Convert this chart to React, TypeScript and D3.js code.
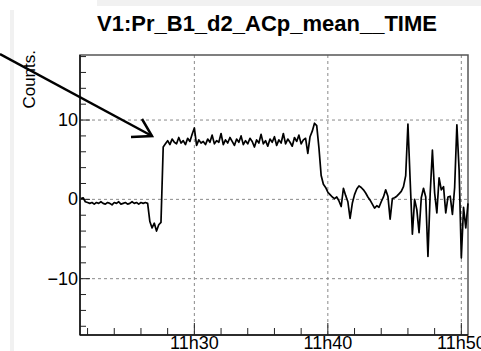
import React, { useEffect, useRef } from "react";
import * as d3 from "d3";

const WIDTH = 481;
const HEIGHT = 351;
const MARGIN = { top: 55, right: 13, bottom: 16, left: 80 };

const TITLE = "V1:Pr_B1_d2_ACp_mean__TIME";
const Y_LABEL = "Counts.";

// one sample every 10 s, starting 11:21:30
const START = new Date(2000, 0, 1, 11, 21, 30);
const STEP_SECONDS = 10;
const X_DOMAIN = [new Date(2000, 0, 1, 11, 21, 26), new Date(2000, 0, 1, 11, 50, 30)];
const Y_DOMAIN = [-17.1, 18.2];
const Y_MAJOR = [-10, 0, 10];

const counts = [
  0.1, 0.2, -0.3, -0.4, -0.5, -0.4, -0.6, -0.4, -0.5, -0.3,
  -0.5, -0.6, -0.4, -0.5, -0.7, -0.4, -0.5, -0.3, -0.6, -0.5,
  -0.4, -0.6, -0.5, -0.3, -0.5, -0.4, -0.6, -0.4, -0.5, -0.4,
  -0.5, -2.8, -3.6, -3.0, -4.0, -3.2, -2.9, 6.6, 7.0, 7.4,
  6.9, 7.6, 7.2, 7.0, 7.8, 7.1, 7.4, 6.9, 7.7, 7.3,
  8.2, 9.0, 6.8, 7.5, 7.1, 7.3, 6.9, 7.6, 7.2, 8.1,
  7.0, 7.4, 7.2, 8.3, 6.9, 7.5, 7.1, 7.8, 7.3, 6.8,
  7.6, 7.2, 8.0, 6.9, 7.4, 7.0, 7.7, 7.3, 6.6, 7.5,
  7.1, 8.2, 7.0, 7.4, 6.7, 7.6, 7.2, 7.9, 6.8, 7.5,
  7.1, 8.3, 7.0, 7.6, 7.2, 6.7, 7.8, 7.3, 8.1, 7.0,
  7.5, 7.7, 5.8, 7.9, 8.6, 9.6, 9.3, 6.5, 3.0, 1.9,
  1.5, 0.9, 0.6, 0.3, 0.1, 0.3, -0.2, -0.9, 1.4, 0.5,
  -0.3, -2.4, -0.5, 0.6, 1.3, 1.7, 1.5, 1.2, 0.8, 0.3,
  -0.1, -0.6, -1.1, -0.8, -1.0, -0.3, 0.3, 1.2, 0.4, -2.5,
  0.1, 0.2, 0.4, 0.7, 1.0, 1.6, 3.0, 9.5, 2.4, -4.4,
  0.0, -1.3, -4.2, 0.2, 1.4, 0.3, -7.2, 0.7, 6.2, 0.8,
  -1.7, 2.7, 1.2, 1.6, -1.7, 0.3, 0.4, -1.9, 1.5, 9.4,
  3.7, -7.4, -1.0, -3.6, -0.5,
];

const App: React.FC = () => {
  const svgRef = useRef<SVGSVGElement | null>(null);

  useEffect(() => {
    const svgElement = svgRef.current;
    if (!svgElement) return;
    const svg = d3.select(svgElement);
    svg.selectAll("*").remove();

    const font = "'Liberation Sans', Arial, Helvetica, sans-serif";
    const x0 = MARGIN.left;
    const x1 = WIDTH - MARGIN.right;
    const y0 = HEIGHT - MARGIN.bottom;
    const y1 = MARGIN.top;

    const xScale = d3.scaleTime().domain(X_DOMAIN).range([x0, x1]);
    const yScale = d3.scaleLinear().domain(Y_DOMAIN).range([y0, y1]);

    // light grey page strips
    svg.append("rect").attr("x", 97).attr("y", 0).attr("width", WIDTH - 97).attr("height", 6).attr("fill", "#f1f1f1");
    svg.append("rect").attr("x", 10).attr("y", 10).attr("width", 4).attr("height", HEIGHT - 10).attr("fill", "#f1f1f1");

    const xMajor = d3.timeMinute.every(10)!.range(X_DOMAIN[0], X_DOMAIN[1]);
    const xMinor = d3.timeMinute.every(2)!.range(X_DOMAIN[0], X_DOMAIN[1]);
    const yMinor = yScale.ticks(20);

    // grid
    const grid = svg.append("g").attr("stroke", "#8a8a8a").attr("stroke-dasharray", "3,3").attr("stroke-width", 1);
    xMajor.forEach((d) => {
      grid.append("line").attr("x1", xScale(d)).attr("x2", xScale(d)).attr("y1", y1).attr("y2", y0);
    });
    Y_MAJOR.forEach((v) => {
      grid.append("line").attr("x1", x0).attr("x2", x1).attr("y1", yScale(v)).attr("y2", yScale(v));
    });

    // ticks
    const ticks = svg.append("g").attr("stroke", "#222").attr("stroke-width", 1);
    yMinor.forEach((v) => {
      const len = Y_MAJOR.includes(v) ? 10 : 6;
      ticks.append("line").attr("x1", x0).attr("x2", x0 + len).attr("y1", yScale(v)).attr("y2", yScale(v));
    });
    xMinor.forEach((d) => {
      const len = d.getMinutes() % 10 === 0 ? 12 : 7;
      ticks.append("line").attr("x1", xScale(d)).attr("x2", xScale(d)).attr("y1", y0).attr("y2", y0 - len);
    });

    // frame
    svg.append("rect")
      .attr("x", x0).attr("y", y1)
      .attr("width", x1 - x0).attr("height", y0 - y1)
      .attr("fill", "none").attr("stroke", "#555").attr("stroke-width", 1.5);
    svg.append("line").attr("x1", x0).attr("x2", x0).attr("y1", y1).attr("y2", y0).attr("stroke", "#111").attr("stroke-width", 1.5);
    svg.append("line").attr("x1", x0).attr("x2", x1).attr("y1", y0).attr("y2", y0).attr("stroke", "#111").attr("stroke-width", 1.5);

    // data line
    const data = counts.map((v, i) => ({ t: new Date(START.getTime() + i * STEP_SECONDS * 1000), v }));
    const line = d3.line<{ t: Date; v: number }>()
      .x((d) => xScale(d.t))
      .y((d) => yScale(d.v));
    svg.append("path")
      .datum(data)
      .attr("d", line)
      .attr("fill", "none")
      .attr("stroke", "#000")
      .attr("stroke-width", 1.7)
      .attr("stroke-linejoin", "round");

    // tick labels
    Y_MAJOR.forEach((v) => {
      svg.append("text")
        .attr("x", x0 - 2).attr("y", yScale(v) + 6)
        .attr("text-anchor", "end")
        .style("font-family", font).style("font-size", "18px")
        .text(v < 0 ? `\u2212${-v}` : `${v}`);
    });
    xMajor.forEach((d) => {
      svg.append("text")
        .attr("x", xScale(d)).attr("y", 349)
        .attr("text-anchor", "middle")
        .style("font-family", font).style("font-size", "18px")
        .text(d3.timeFormat("%Hh%M")(d));
    });

    // titles
    svg.append("text")
      .attr("x", 267).attr("y", 31)
      .attr("text-anchor", "middle")
      .style("font-family", font).style("font-size", "22px").style("font-weight", "bold")
      .text(TITLE);
    svg.append("text")
      .attr("transform", `translate(35,50) rotate(-90)`)
      .attr("text-anchor", "end")
      .style("font-family", font).style("font-size", "17px")
      .text(Y_LABEL);

    // annotation arrow
    const arrow = svg.append("g").attr("stroke", "#000").attr("stroke-width", 2.5).attr("fill", "none");
    arrow.append("path").attr("d", "M0,54L152,136");
    arrow.append("path").attr("d", "M131,137L152,136L142,119");
  }, []);

  return (
    <div>
      <svg
        ref={svgRef}
        width={WIDTH}
        height={HEIGHT}
        style={{ position: "absolute", left: 0, top: 0, background: "#fff" }}
      ></svg>
    </div>
  );
};

export default App;
